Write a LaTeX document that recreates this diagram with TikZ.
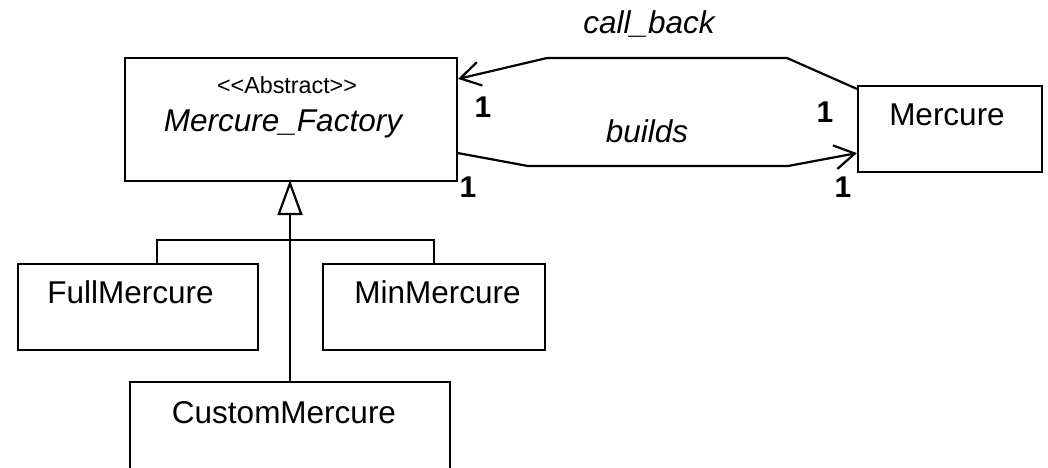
\documentclass[tikz,border=0pt]{standalone}
\usepackage{fontspec}
\setmainfont{Liberation Sans}
\usetikzlibrary{arrows.meta}

\tikzset{
  classbox/.style={draw, line width=2.2pt, inner sep=0pt},
  classname/.style={anchor=base, inner sep=0pt, font=\fontsize{31.5}{36}\selectfont},
  stereo/.style={anchor=base, inner sep=0pt, font=\fontsize{23.3}{28}\selectfont},
  mult/.style={anchor=base, inner sep=0pt, font=\fontsize{30}{36}\selectfont\bfseries},
  assoc/.style={line width=2.2pt, -{Straight Barb[length=20pt,width=24pt,line width=2.2pt]}},
  inherit/.style={line width=2.2pt, -{Triangle[open,length=35pt,width=25pt,line width=2.2pt]}},
}

\begin{document}
\begin{tikzpicture}[x=1pt, y=-1pt]
    \useasboundingbox (0,0) rectangle (1048,467);

    % classes
    \node[classbox, minimum width=332pt, minimum height=123pt] (fac)  at (291,119.5) {};
    \node[classbox, minimum width=184pt, minimum height=86pt]  (merc) at (950,129) {};
    \node[classbox, minimum width=240pt, minimum height=86pt]  (full) at (138,307) {};
    \node[classbox, minimum width=222pt, minimum height=86pt]  (minm) at (434,307) {};
    \node[classbox, minimum width=320pt, minimum height=88pt]  (cust) at (290,426) {};

    \node[stereo]    (factype) at (287,93)  {<{}<Abstract>{}>};
    \node[classname] (facname) at (283,131.5) {\itshape Mercure\_Factory};
    \node[classname] (mercname) at (947,125) {Mercure};
    \node[classname] (fullname) at (130.5,303) {FullMercure};
    \node[classname] (minmname) at (437.5,303) {MinMercure};
    \node[classname] (custname) at (284,423) {CustomMercure};

    % associations
    \coordinate (cb1) at (787,58);
    \coordinate (cb2) at (547,58);
    \coordinate (bd1) at (528,166);
    \coordinate (bd2) at (788,166);
    \draw[assoc] ([yshift=-4pt]merc.north west) -- (cb1) -- (cb2) -- ([yshift=-22pt]fac.north east);
    \draw[assoc] ([yshift=29pt]fac.south east) -- (bd1) -- (bd2) -- ([yshift=20pt]merc.south west);

    \node[classname] (cblabel) at (649,33)  {\itshape call\_back};
    \node[classname] (bdlabel) at (647,142) {\itshape builds};
    \node[mult] (m1) at (483,117) {1};
    \node[mult] (m2) at (468,197) {1};
    \node[mult] (m3) at (825,122) {1};
    \node[mult] (m4) at (843,197) {1};

    % generalisation
    \coordinate (bar) at (290,240);
    \draw[inherit] (cust.north) -- ([yshift=2pt]cust.north |- fac.south);
    \draw[line width=2.2pt] ([xshift=19pt]full.north) -- ([xshift=19pt]full.north |- bar)
        -- (minm.north |- bar) -- (minm.north);
\end{tikzpicture}
\end{document}
